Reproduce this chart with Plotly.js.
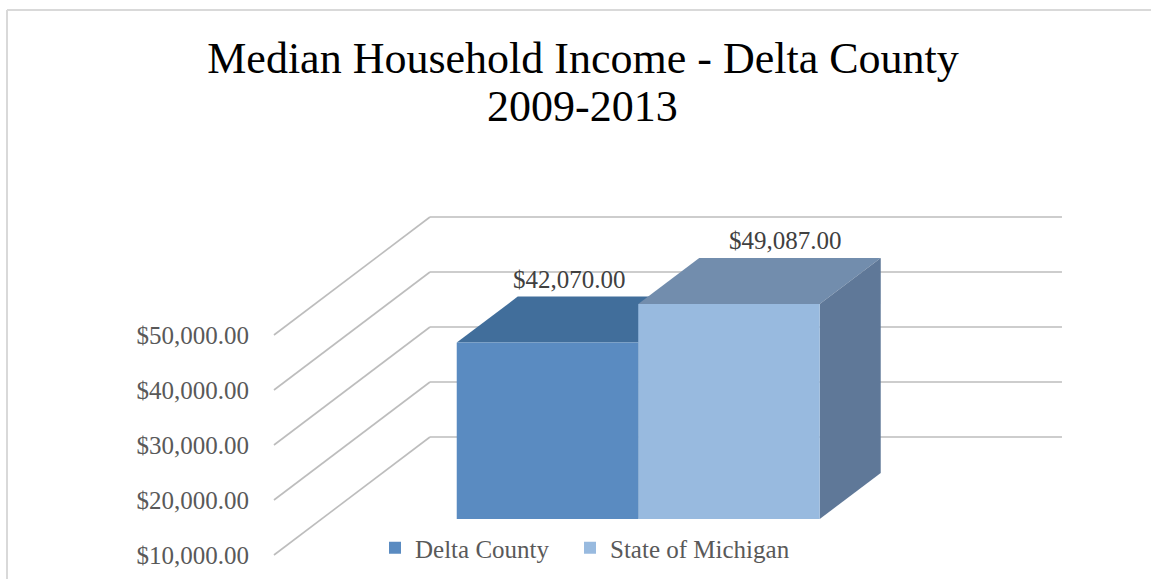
<!DOCTYPE html>
<html><head><meta charset="utf-8">
<script src="https://cdn.plot.ly/plotly-3.0.1.min.js"></script>
<style>html,body{margin:0;padding:0;background:#fff;} #chart{width:1151px;height:579px;}</style>
</head><body><div id="chart"></div>
<script>
// ---- data ----
const chartTitle = 'Median Household Income - Delta County';
const chartSubtitle = '2009-2013';
const categories = ['Delta County', 'State of Michigan'];
const incomes = [42070, 49087];
const tickValues = [10000, 20000, 30000, 40000, 50000];
const axisMin = 10000;

// ---- style ----
const frontColors = ['#5a8bc1', '#98badf'];
const topColors = ['#416e9b', '#728dad'];
const sideColors = ['#3d6690', '#5f7898'];
const labelXShift = [-8, 26];
const legendIds = ['legend', 'legend2'];
const legendX = [375 / 1151, 570 / 1151];
const font = 'Liberation Serif, Times New Roman, serif';

// ---- oblique 3D projection expressed in axis units ----
const barDepth = {dx: 0.336, dy: 8364};
const wallDepth = {dx: 0.6006, dy: 14909};
const labelDepth = {dx: -0.259, dy: -6545};
const floorLeft = -1.248, floorRight = 2.234;
const xRange = [-3.0165, 3.3251];
const yRange = [-909, 104364];

const traces = categories.map((name, i) => ({
  type: 'bar', name: name, x: [i], y: [incomes[i] - axisMin], base: [axisMin], width: [1],
  marker: {color: frontColors[i], line: {width: 0}}, hoverinfo: 'skip', xaxis: 'x', yaxis: 'y',
  legend: legendIds[i]
}));
traces.push({type: 'scatter', mode: 'markers', x: tickValues.map(() => floorLeft + labelDepth.dx),
  y: tickValues, xaxis: 'x', yaxis: 'y2', marker: {opacity: 0}, showlegend: false, hoverinfo: 'skip'});

const shapes = [];
// chart border (top & left)
shapes.push({type: 'line', xref: 'paper', yref: 'paper', x0: 7/1151, x1: 1, y0: 1 - 10/579, y1: 1 - 10/579, line: {color: '#d9d9d9', width: 2}, layer: 'below'});
shapes.push({type: 'line', xref: 'paper', yref: 'paper', x0: 7/1151, x1: 7/1151, y0: 0, y1: 1 - 10/579, line: {color: '#d9d9d9', width: 2}, layer: 'below'});
// back wall gridlines and side-wall diagonals
tickValues.forEach(v => {
  const bx0 = floorLeft + wallDepth.dx, by = v + wallDepth.dy;
  shapes.push({type: 'line', xref: 'x', yref: 'y', x0: bx0, x1: floorRight + wallDepth.dx, y0: by, y1: by,
    line: {color: '#bdbdbd', width: 1.6}, layer: 'below'});
  shapes.push({type: 'line', xref: 'x', yref: 'y', x0: floorLeft + labelDepth.dx, y0: v + labelDepth.dy, x1: bx0, y1: by,
    line: {color: '#bdbdbd', width: 1.6}, layer: 'below'});
});
// bar tops and sides
incomes.forEach((val, i) => {
  const x0 = i - 0.5, x1 = i + 0.5, t = val, b = axisMin;
  const dx = barDepth.dx, dy = barDepth.dy;
  shapes.push({type: 'path', xref: 'x', yref: 'y', layer: 'below', line: {width: 0}, fillcolor: topColors[i],
    path: `M${x0},${t} L${x1},${t} L${x1+dx},${t+dy} L${x0+dx},${t+dy} Z`});
  shapes.push({type: 'path', xref: 'x', yref: 'y', layer: 'below', line: {width: 0}, fillcolor: sideColors[i],
    path: `M${x1},${b} L${x1},${t} L${x1+dx},${t+dy} L${x1+dx},${b+dy} Z`});
});

const annotations = incomes.map((val, i) => ({
  xref: 'x', yref: 'y', x: i + barDepth.dx / 2, y: val + barDepth.dy, xanchor: 'center', yanchor: 'bottom',
  xshift: labelXShift[i], yshift: 2, showarrow: false,
  text: '$' + val.toLocaleString('en-US', {minimumFractionDigits: 2, maximumFractionDigits: 2}),
  font: {family: font, size: 25, color: '#404040'}
}));
annotations.push({xref: 'paper', yref: 'paper', x: 582/1151, y: 1 - 106/579, xanchor: 'center', yanchor: 'middle',
  showarrow: false, text: chartSubtitle, font: {family: font, size: 44, color: '#000'}});

const legendStyle = (x) => ({orientation: 'h', x: x, xanchor: 'left', y: 1 - 548/579, yanchor: 'middle',
  font: {family: font, size: 25, color: '#595959'}, bgcolor: 'rgba(0,0,0,0)'});

const layout = {
  width: 1151, height: 579,
  margin: {l: 0, r: 0, t: 0, b: 0},
  paper_bgcolor: '#fff', plot_bgcolor: 'rgba(0,0,0,0)',
  title: {text: chartTitle, font: {family: font, size: 44, color: '#000'},
    x: 583/1151, xanchor: 'center', xref: 'paper', y: 1 - 57.5/579, yanchor: 'middle', yref: 'container'},
  barmode: 'overlay',
  xaxis: {range: xRange, visible: false, fixedrange: true},
  yaxis: {range: yRange, visible: false, fixedrange: true},
  yaxis2: {overlaying: 'y', anchor: 'free', position: 249/1151, side: 'left',
    range: [yRange[0] - labelDepth.dy, yRange[1] - labelDepth.dy],
    tickvals: tickValues, tickformat: '$,.2f', showgrid: false, zeroline: false, showline: false, ticks: '',
    tickfont: {family: font, size: 25, color: '#595959'}, fixedrange: true},
  showlegend: true,
  legend: legendStyle(legendX[0]),
  legend2: legendStyle(legendX[1]),
  shapes: shapes, annotations: annotations,
  hovermode: false
};

Plotly.newPlot('chart', traces, layout, {displayModeBar: false, staticPlot: true});
</script></body></html>
